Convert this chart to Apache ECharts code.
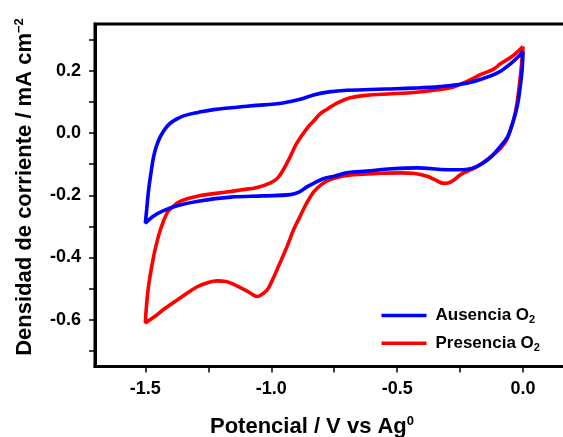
<!DOCTYPE html>
<html>
<head>
<meta charset="utf-8">
<script src="https://cdn.jsdelivr.net/npm/echarts@6/dist/echarts.min.js"></script>
<style>
  html, body { margin: 0; padding: 0; background: #fff; }
  #chart { width: 563px; height: 437px; }
</style>
</head>
<body>
<div id="chart"></div>
<script>
// Cyclic voltammograms: potential (V vs Ag0) and current density (mA cm-2)
// Without O2 (closed loop, starting at the anodic vertex)
const ausenciaE = [0.0, -0.004, -0.011, -0.022, -0.037, -0.06, -0.09, -0.125, -0.16, -0.2, -0.24,
  -0.3, -0.42, -0.52, -0.62, -0.7, -0.75, -0.79, -0.83, -0.86, -0.89, -0.924, -1.03, -1.16, -1.29,
  -1.37, -1.43, -1.47, -1.5, -1.494, -1.487, -1.478, -1.467, -1.455, -1.44, -1.42, -1.4, -1.375,
  -1.348, -1.29, -1.229, -1.096, -0.977, -0.931, -0.885, -0.832, -0.77, -0.7, -0.55, -0.434, -0.33,
  -0.236, -0.17, -0.103, -0.05, -0.015, 0.0];
const ausenciaJ = [0.262, 0.2, 0.15, 0.09, 0.043, -0.01, -0.043, -0.075, -0.097, -0.113, -0.118,
  -0.118, -0.112, -0.115, -0.122, -0.128, -0.139, -0.146, -0.161, -0.174, -0.19, -0.198, -0.202, -0.206, -0.219,
  -0.233, -0.25, -0.268, -0.29, -0.24, -0.182, -0.13, -0.075, -0.04, -0.011, 0.015, 0.032, 0.045,
  0.055, 0.066, 0.075, 0.086, 0.094, 0.1, 0.108, 0.122, 0.132, 0.137, 0.141, 0.144, 0.149,
  0.158, 0.172, 0.192, 0.222, 0.248, 0.262];

// With O2 (closed loop, starting at the anodic vertex)
const presenciaE = [0.0, -0.04, -0.09, -0.117, -0.17, -0.222, -0.276, -0.355, -0.434, -0.52, -0.633,
  -0.69, -0.739, -0.775, -0.805, -0.83, -0.858, -0.898, -0.924, -0.95, -0.975, -1.003, -1.056, -1.122,
  -1.162, -1.294, -1.36, -1.395, -1.414, -1.44, -1.46, -1.475, -1.487, -1.495, -1.5,
  -1.46, -1.428, -1.36, -1.294, -1.25, -1.215, -1.18, -1.149, -1.096, -1.07, -1.056, -1.04, -1.017,
  -0.997, -0.977, -0.937, -0.911, -0.885, -0.86, -0.832, -0.8, -0.765, -0.72, -0.673, -0.58, -0.487,
  -0.43, -0.381, -0.35, -0.315, -0.295, -0.276, -0.249, -0.222, -0.183, -0.143, -0.09, -0.064, -0.05,
  -0.035, -0.024, -0.015, -0.008, 0.0];
const presenciaJ = [0.278, 0.248, 0.222, 0.205, 0.187, 0.166, 0.148, 0.137, 0.13, 0.126, 0.12,
  0.112, 0.096, 0.078, 0.062, 0.04, 0.015, -0.032, -0.075, -0.115, -0.145, -0.16, -0.175, -0.183,
  -0.188, -0.203, -0.219, -0.24, -0.257, -0.31, -0.37, -0.43, -0.49, -0.55, -0.61,
  -0.588, -0.567, -0.529, -0.494, -0.48, -0.475, -0.477, -0.486, -0.508, -0.521, -0.525, -0.52, -0.505,
  -0.475, -0.439, -0.364, -0.31, -0.267, -0.226, -0.19, -0.165, -0.149, -0.139, -0.134, -0.13, -0.128,
  -0.13, -0.139, -0.15, -0.162, -0.16, -0.152, -0.134, -0.123, -0.108, -0.086, -0.05, -0.021, 0.011,
  0.05, 0.096, 0.15, 0.203, 0.278];

// Axis ticks and labels
const xTicks = [-1.5, -1.25, -1.0, -0.75, -0.5, -0.25, 0.0];
const xLabels = [-1.5, -1.0, -0.5, 0.0];
const yTicks = [-0.7, -0.6, -0.5, -0.4, -0.3, -0.2, -0.1, 0.0, 0.1, 0.2, 0.3];
const yLabels = [-0.6, -0.4, -0.2, 0.0, 0.2];

const seriesNames = ['Ausencia O2', 'Presencia O2'];

const FONT = '"Liberation Sans", Arial, sans-serif';
const zip = (xs, ys) => xs.map((x, i) => [x, ys[i]]);

const chart = echarts.init(document.getElementById('chart'), null, { renderer: 'canvas' });

chart.setOption({
  animation: false,
  backgroundColor: '#ffffff',
  grid: {
    left: 95, top: 24, width: 478.4, height: 342.5,
    outerBoundsMode: 'none', containLabel: false,
    show: true, borderColor: '#000', borderWidth: 3, backgroundColor: 'transparent'
  },
  xAxis: {
    type: 'value', min: -1.7, max: 0.2,
    axisLine: { show: true, onZero: false, lineStyle: { color: '#000', width: 3 } },
    axisTick: { show: true, customValues: xTicks, length: 6, lineStyle: { color: '#000', width: 1.5 } },
    axisLabel: {
      show: true, customValues: xLabels, margin: 14,
      formatter: v => v.toFixed(1),
      color: '#000', fontFamily: FONT, fontWeight: 'bold', fontSize: 18
    },
    splitLine: { show: false }
  },
  yAxis: {
    type: 'value', min: -0.75, max: 0.35,
    axisLine: { show: true, onZero: false, lineStyle: { color: '#000', width: 3 } },
    axisTick: { show: true, customValues: yTicks, length: 6, lineStyle: { color: '#000', width: 1.5 } },
    axisLabel: {
      show: true, customValues: yLabels, margin: 14,
      formatter: v => v.toFixed(1),
      color: '#000', fontFamily: FONT, fontWeight: 'bold', fontSize: 18
    },
    splitLine: { show: false }
  },
  legend: {
    data: seriesNames,
    orient: 'vertical',
    left: 381.5, top: 307, padding: 0,
    itemWidth: 45, itemHeight: 3.5, itemGap: 9.2,
    icon: 'rect',
    formatter: name => '{m|' + name.slice(0, -1) + '}{s|2}',
    textStyle: {
      color: '#000',
      rich: {
        m: { fontFamily: FONT, fontWeight: 'bold', fontSize: 17, lineHeight: 20, padding: [0, 0, 0, 4], color: '#000' },
        s: { fontFamily: FONT, fontWeight: 'bold', fontSize: 11, lineHeight: 11, verticalAlign: 'bottom', color: '#000' }
      }
    }
  },
  graphic: [
    {
      type: 'text', x: 312, y: 427,
      style: {
        text: '{m|Potencial / V vs Ag}{p|0}',
        align: 'center', verticalAlign: 'middle',
        rich: {
          m: { fontFamily: FONT, fontWeight: 'bold', fontSize: 22, lineHeight: 25, fill: '#000' },
          p: { fontFamily: FONT, fontWeight: 'bold', fontSize: 13, lineHeight: 13, verticalAlign: 'top', fill: '#000' }
        }
      }
    },
    {
      type: 'text', x: 25, y: 187, rotation: Math.PI / 2,
      style: {
        text: '{m|Densidad de corriente / mA cm}{p|\u22122}',
        align: 'center', verticalAlign: 'middle',
        rich: {
          m: { fontFamily: FONT, fontWeight: 'bold', fontSize: 22, lineHeight: 25, fill: '#000' },
          p: { fontFamily: FONT, fontWeight: 'bold', fontSize: 13, lineHeight: 13, verticalAlign: 'top', fill: '#000' }
        }
      }
    }
  ],
  series: [
    {
      name: 'Presencia O2', type: 'line', data: zip(presenciaE, presenciaJ),
      showSymbol: false, symbol: 'none', smooth: 0.4, z: 2,
      color: '#ff0000', lineStyle: { color: '#ff0000', width: 3.6 }
    },
    {
      name: 'Ausencia O2', type: 'line', data: zip(ausenciaE, ausenciaJ),
      showSymbol: false, symbol: 'none', smooth: 0.4, z: 3,
      color: '#0000ff', lineStyle: { color: '#0000ff', width: 3.6 }
    }
  ]
});
</script>
</body>
</html>
